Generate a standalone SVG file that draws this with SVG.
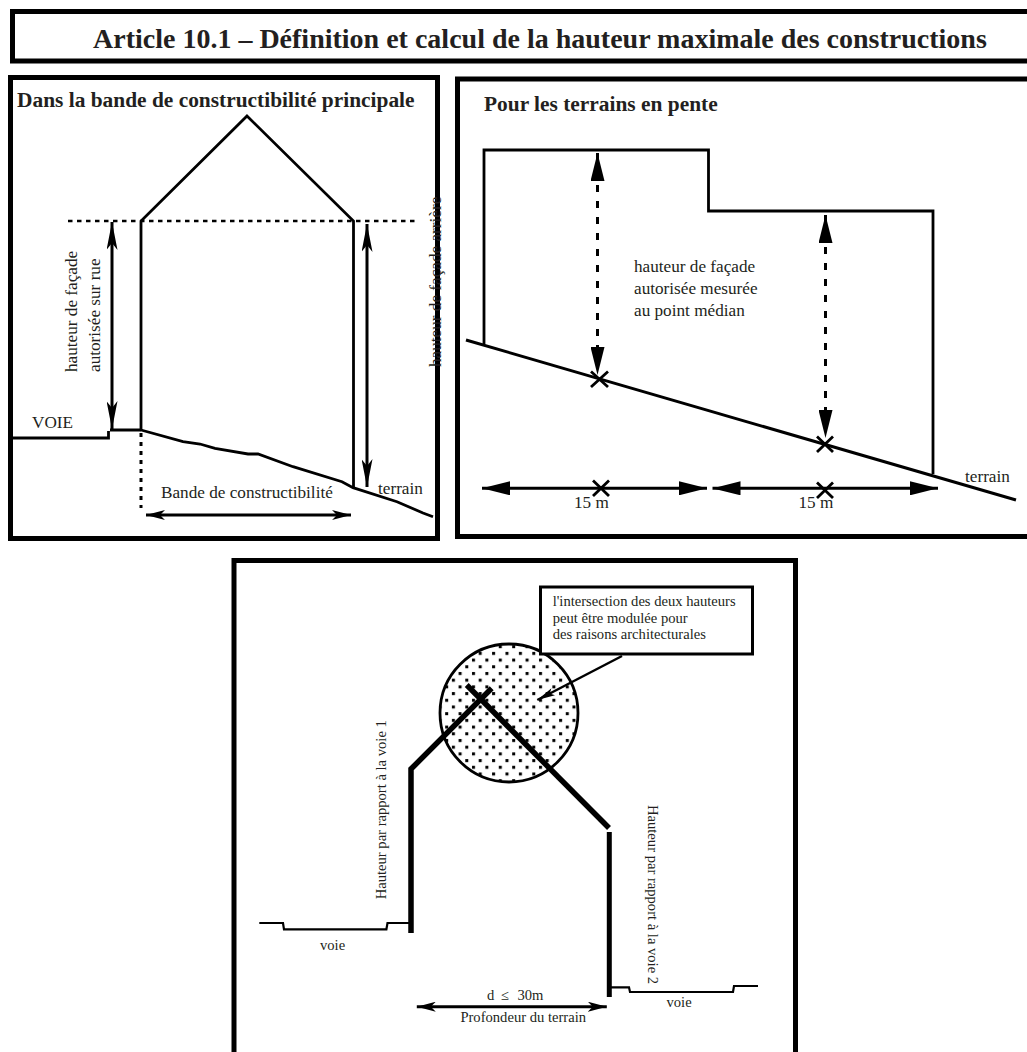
<svg xmlns="http://www.w3.org/2000/svg" width="1027" height="1052" viewBox="0 0 1027 1052">
<style>
text{font-family:"Liberation Serif","Times New Roman",serif;fill:#231f20;font-size:17.2px}
.h{font-weight:bold;font-size:21.4px}
.t{font-weight:bold;font-size:28px}
.s{font-size:14.6px}
.l{fill:none;stroke:#000;stroke-width:2.8;stroke-linejoin:miter}
.r{fill:none;stroke:#000;stroke-width:2.2}
.w{fill:none;stroke:#000;stroke-width:5}
.k{fill:none;stroke:#000;stroke-width:5.5}
.da{fill:none;stroke:#000;stroke-width:3;stroke-dasharray:7 9}
.dl{fill:none;stroke:#000;stroke-width:2.5;stroke-dasharray:4.500 4.500}
.dv{fill:none;stroke:#000;stroke-width:3;stroke-dasharray:4 5}
</style>
<defs>
<marker id="long" viewBox="0 0 28 11" refX="28" refY="5.500" markerWidth="28" markerHeight="11" markerUnits="userSpaceOnUse" orient="auto-start-reverse"><path d="M0 0L28 5.500L0 11L7 5.500z"/></marker>
<marker id="short" viewBox="0 0 19 10" refX="19" refY="5" markerWidth="19" markerHeight="10" markerUnits="userSpaceOnUse" orient="auto-start-reverse"><path d="M0 0L19 5L0 10L5 5z"/></marker>
<marker id="tri" viewBox="0 0 28 14" refX="28" refY="7" markerWidth="28" markerHeight="14" markerUnits="userSpaceOnUse" orient="auto-start-reverse"><path d="M0 0L28 7L0 14z"/></marker>
<marker id="thin" viewBox="0 0 18 10" refX="18" refY="5" markerWidth="18" markerHeight="10" markerUnits="userSpaceOnUse" orient="auto"><path d="M0 1L18 5L0 9L4 5z"/></marker>
<pattern id="dots" width="13.4" height="13.4" patternUnits="userSpaceOnUse" x="2" y="1">
<rect x="1" y="1" width="3" height="3"/><rect x="7.700" y="7.700" width="3" height="3"/>
</pattern>
</defs>
<rect width="1027" height="1052" fill="#fff"/>

<g id="title">
<path class="w" d="M1030 11.500H12.500V61H1030"/>
<text class="t" x="93" y="48">Article 10.1 – Définition et calcul de la hauteur maximale des constructions</text>
</g>

<g id="panel-left">
<rect class="w" x="10.500" y="77.500" width="427" height="461"/>
<text class="h" x="17" y="107">Dans la bande de constructibilité principale</text>
<path id="house" class="l" d="M141 430V221L247 116L353.500 221V488"/>
<path class="dl" d="M68 221H415"/>
<path class="l" d="M13 438H108.500V431M110 430H141"/>
<path class="l" d="M141 430L183 441.700L200 444L215 448.300L248 454L258 454L293 466.700L342 481.700L353 487.700L397 501.700L423 513L433 516.700"/>
<path class="dv" d="M141 433V508"/>
<text x="32" y="428">VOIE</text>
<text x="161" y="498">Bande de constructibilité</text>
<text x="378" y="494">terrain</text>
<text transform="translate(77 372) rotate(-90)">hauteur de façade</text>
<text transform="translate(100 372) rotate(-90)">autorisée sur rue</text>
<text transform="translate(441 367) rotate(-90)">hauteur de façade arrière</text>
</g>

<g id="panel-right">
<path class="w" d="M1030 79H457.500V536.500H1030"/>
<text class="h" x="484" y="111">Pour les terrains en pente</text>
<path class="l" d="M484 344V150H708.500V211H933V474"/>
<path class="l" style="stroke-width:3" d="M466 340L1016 500"/>
<path class="l" d="M591 371.500L608 387M608 371.500L591 387M817 436.500L833 452M833 436.500L817 452M593 480.500L609 496M609 480.500L593 496M817 482.500L833 498M833 482.500L817 498"/>
<text x="634" y="272">hauteur de façade</text>
<text x="634" y="294">autorisée mesurée</text>
<text x="634" y="316">au point médian</text>
<text x="574" y="508">15 m</text>
<text x="798.500" y="508">15 m</text>
<text x="965" y="482">terrain</text>
</g>

<g id="panel-bottom">
<path class="w" d="M234 1052V560.500H795.500V1052"/>
<circle id="zone" cx="509" cy="713" r="69" fill="url(#dots)" stroke="#000" stroke-width="2.800"/>
<path class="k" d="M411 933V769L491.700 688.300"/>
<path class="k" d="M466.700 685L609 828"/>
<path class="w" d="M609.300 832V997"/>
<path class="r" d="M259.300 923H283L284 929.300H386.400L387.500 923H411"/>
<path class="r" d="M609 987.300H629L630 992H733L734 986H758"/>
<g id="callout">
<rect x="540.500" y="587" width="212" height="67" fill="#fff" stroke="#000" stroke-width="3"/>
<text class="s" x="552.700" y="606">l'intersection des deux hauteurs</text>
<text class="s" x="552.700" y="622.500">peut être modulée pour</text>
<text class="s" x="552.700" y="639">des raisons architecturales</text>
</g>
<text class="s" x="320" y="949.500">voie</text>
<text class="s" x="666.500" y="1006.700">voie</text>
<text class="s" y="1000"><tspan x="487">d</tspan><tspan x="500.700">≤</tspan><tspan x="517.500">30m</tspan></text>
<text class="s" x="460.400" y="1021.700">Profondeur du terrain</text>
<text class="s" transform="translate(386.400 899.300) rotate(-90)">Hauteur par rapport à la voie 1</text>
<text class="s" transform="translate(648 805) rotate(90)">Hauteur par rapport à la voie 2</text>
</g>

<g id="connectors" fill="none" stroke="#000">
<path stroke-width="3" d="M112 222V429" marker-start="url(#long)" marker-end="url(#long)"/>
<path stroke-width="3" d="M367 224V487" marker-start="url(#long)" marker-end="url(#long)"/>
<path stroke-width="3" d="M146 515H351" marker-start="url(#short)" marker-end="url(#short)"/>
<path class="da" d="M597.500 153V375" marker-start="url(#tri)" marker-end="url(#tri)"/>
<path class="da" d="M825.500 215V438" marker-start="url(#tri)" marker-end="url(#tri)"/>
<path stroke-width="3" d="M482 488.300H707" marker-start="url(#tri)" marker-end="url(#tri)"/>
<path stroke-width="3" d="M712.500 488.300H938" marker-start="url(#tri)" marker-end="url(#tri)"/>
<path stroke-width="2.500" d="M622 656L537.300 700" marker-end="url(#thin)"/>
<path stroke-width="3" d="M416.800 1006.700H606.800" marker-start="url(#short)" marker-end="url(#short)"/>
</g>
</svg>
